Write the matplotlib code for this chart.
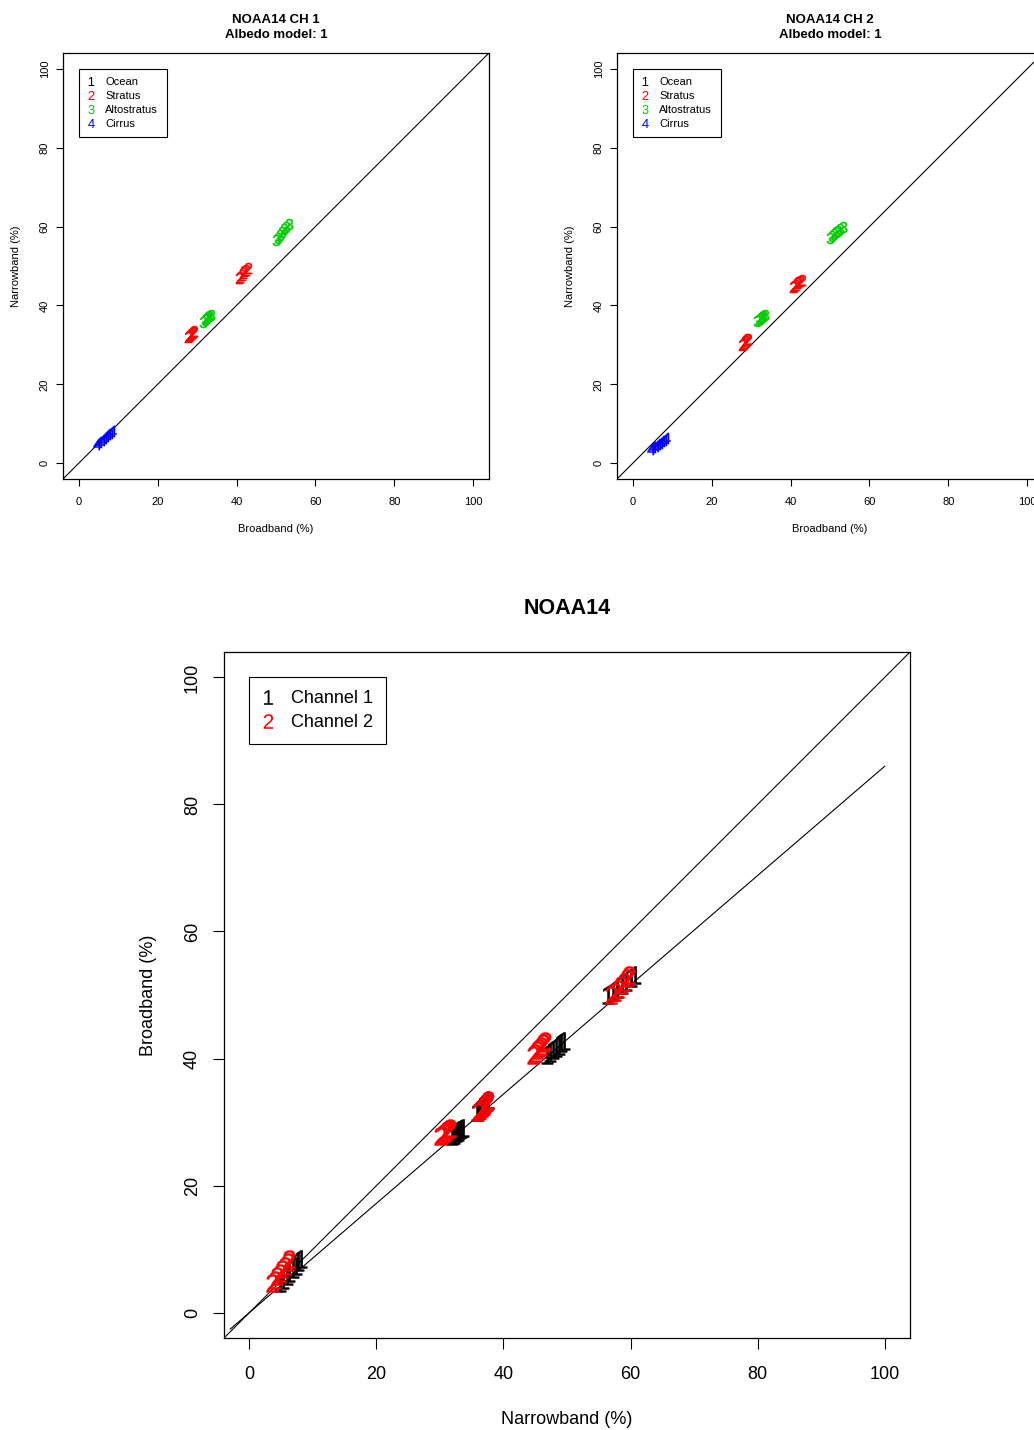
import matplotlib
matplotlib.use("Agg")
import matplotlib.pyplot as plt
from matplotlib.lines import Line2D

plt.rcParams['font.family'] = ['Liberation Sans', 'DejaVu Sans']
plt.rcParams['mathtext.fontset'] = 'custom'
plt.rcParams['mathtext.rm'] = 'Liberation Sans'
plt.rcParams['mathtext.it'] = 'Liberation Sans'

# cloud types, digit symbols and colours (R palette)
types = ["Ocean", "Stratus", "Altostratus", "Cirrus"]
symbols = ["1", "2", "3", "4"]
colors = ["black", "#FF0000", "#00CD00", "#0000FF"]

# broadband albedo (%) per cluster
bb_cirrus = [4.6, 5.2, 5.8, 6.3, 6.9, 7.4, 7.9, 8.4]
bb_strat_lo = [27.8, 28.0, 28.3, 28.5, 28.7, 28.9, 29.1]
bb_alto_lo = [31.6, 31.9, 32.2, 32.5, 32.8, 33.1, 33.4]
bb_strat_hi = [40.5, 40.9, 41.3, 41.7, 42.0, 42.4, 42.8]
bb_alto_hi = [50.0, 50.5, 51.0, 51.6, 52.1, 52.6, 53.2]

# narrowband albedo (%) channel 1
nb1_cirrus = [4.8, 5.3, 5.9, 6.3, 6.8, 7.3, 7.7, 8.2]
nb1_strat_lo = [31.9, 32.2, 32.5, 32.8, 33.0, 33.3, 33.6]
nb1_alto_lo = [35.9, 36.2, 36.5, 36.8, 37.0, 37.3, 37.6]
nb1_strat_hi = [46.9, 47.3, 47.8, 48.3, 48.7, 49.1, 49.6]
nb1_alto_hi = [56.5, 57.2, 57.9, 58.6, 59.3, 60.0, 60.7]

# narrowband albedo (%) channel 2
nb2_cirrus = [3.6, 4.0, 4.4, 4.8, 5.2, 5.6, 6.0, 6.3]
nb2_strat_lo = [30.0, 30.3, 30.6, 30.9, 31.1, 31.4, 31.6]
nb2_alto_lo = [36.0, 36.3, 36.6, 36.9, 37.1, 37.4, 37.6]
nb2_strat_hi = [44.6, 44.9, 45.2, 45.6, 45.9, 46.2, 46.5]
nb2_alto_hi = [57.0, 57.5, 58.0, 58.5, 59.0, 59.4, 59.8]

# fitted line broadband = a + b * narrowband
fit_x = [-3, 100]
fit_a = 0.0
fit_b = 0.86

ticks = [0, 20, 40, 60, 80, 100]
lims = [-4, 104]

W, H = 1034, 1430
fig = plt.figure(figsize=(W / 100, H / 100), dpi=100)


def style(ax, fs, tlen, xpad, ypad, lpad_x, lpad_y):
    ax.set_xlim(lims)
    ax.set_ylim(lims)
    ax.set_xticks(ticks)
    ax.set_yticks(ticks)
    ax.tick_params(direction='out', length=tlen, width=0.8, labelsize=fs)
    ax.tick_params(axis='x', pad=xpad)
    ax.tick_params(axis='y', labelrotation=90, pad=ypad)
    for lab in ax.get_yticklabels():
        lab.set_va('center')
    for s in ax.spines.values():
        s.set_linewidth(0.9)
    ax.xaxis.labelpad = lpad_x
    ax.yaxis.labelpad = lpad_y


def top_panel(rect, ch, nb_lists):
    ax = fig.add_axes(rect)
    ax.plot(lims, lims, color='black', lw=0.8)
    bb_lists = [bb_strat_lo, bb_alto_lo, bb_strat_hi, bb_alto_hi, bb_cirrus]
    kinds = [1, 2, 1, 2, 3]
    for bb, nb, k in zip(bb_lists, nb_lists, kinds):
        ax.plot(bb, nb, linestyle='None', marker='$' + symbols[k] + '$',
                color=colors[k], markersize=8, markeredgewidth=0.3)
    style(ax, 8, 5, 8, 4.5, 12, 13.5)
    ax.set_xlabel("Broadband (%)", fontsize=8)
    ax.set_ylabel("Narrowband (%)", fontsize=8)
    ax.set_title("NOAA14 CH %d\nAlbedo model: 1" % ch, fontsize=9.5,
                 fontweight='bold', pad=11, linespacing=1.25)
    handles = [Line2D([], [], linestyle='None', marker='$' + s + '$', color=c,
                      markersize=6.5, markeredgewidth=0)
               for s, c in zip(symbols, colors)]
    leg = ax.legend(handles, types, loc='upper left', bbox_to_anchor=(0, 100),
                    bbox_transform=ax.transData, fontsize=8, fancybox=False,
                    edgecolor='black', framealpha=1, handlelength=0.7,
                    handletextpad=0.95, labelspacing=0.36, borderpad=0.75,
                    borderaxespad=0)
    leg.get_frame().set_linewidth(0.8)
    return ax


top_panel([63 / W, 1 - 479 / H, 426 / W, 426 / H], 1,
          [nb1_strat_lo, nb1_alto_lo, nb1_strat_hi, nb1_alto_hi, nb1_cirrus])
top_panel([617 / W, 1 - 479 / H, 426 / W, 426 / H], 2,
          [nb2_strat_lo, nb2_alto_lo, nb2_strat_hi, nb2_alto_hi, nb2_cirrus])

# bottom panel: broadband against narrowband for both channels
ax = fig.add_axes([224 / W, 1 - 1338 / H, 686 / W, 686 / H])
ax.plot(lims, lims, color='black', lw=0.8)
ax.plot(fit_x, [fit_a + fit_b * v for v in fit_x], color='black', lw=0.8)
bb_all = bb_cirrus + bb_strat_lo + bb_alto_lo + bb_strat_hi + bb_alto_hi
nb1_all = nb1_cirrus + nb1_strat_lo + nb1_alto_lo + nb1_strat_hi + nb1_alto_hi
nb2_all = nb2_cirrus + nb2_strat_lo + nb2_alto_lo + nb2_strat_hi + nb2_alto_hi
ax.plot(nb1_all, bb_all, linestyle='None', marker='$1$', color='black',
        markersize=13, markeredgewidth=0.3)
ax.plot(nb2_all, bb_all, linestyle='None', marker='$2$', color='#FF0000',
        markersize=13, markeredgewidth=0.3)
style(ax, 13, 8, 12, 8.5, 20, 19.5)
ax.set_xlabel("Narrowband (%)", fontsize=13)
ax.set_ylabel("Broadband (%)", fontsize=13)
ax.set_title("NOAA14", fontsize=15.5, fontweight='bold', pad=27)
handles = [Line2D([], [], linestyle='None', marker='$1$', color='black',
                  markersize=10.5, markeredgewidth=0),
           Line2D([], [], linestyle='None', marker='$2$', color='#FF0000',
                  markersize=10.5, markeredgewidth=0)]
leg = ax.legend(handles, ["Channel 1", "Channel 2"], loc='upper left',
                bbox_to_anchor=(0, 100), bbox_transform=ax.transData, fontsize=13,
                fancybox=False, edgecolor='black', framealpha=1, handlelength=0.7,
                handletextpad=0.9, labelspacing=0.38, borderpad=0.7, borderaxespad=0)
leg.get_frame().set_linewidth(0.8)

fig.savefig("out.png", dpi=100)
